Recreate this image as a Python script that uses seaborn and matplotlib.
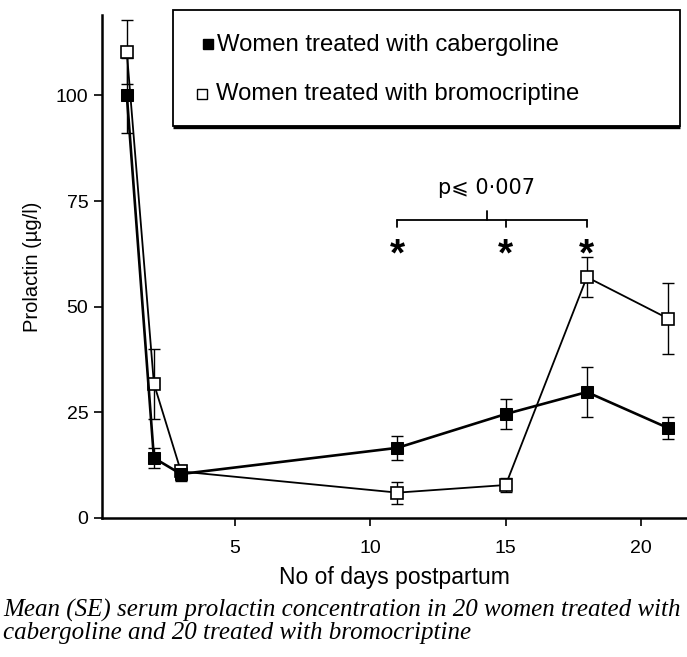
import pandas as pd
import matplotlib.pyplot as plt
from matplotlib.patches import Rectangle
import seaborn as sns

# ── Data ──────────────────────────────────────────────────────────────────────
days = [1, 2, 3, 11, 15, 18, 21]
cabergoline_mean = [100.0, 14.2, 10.4, 16.6, 24.6, 29.8, 21.3]
cabergoline_se = [8.8, 2.4, 1.6, 2.8, 3.6, 6.0, 2.5]
bromocriptine_mean = [110.2, 31.8, 11.0, 6.0, 7.8, 57.0, 47.2]
bromocriptine_se = [7.6, 8.3, 1.5, 2.6, 1.6, 4.8, 8.5]
sig_days = [11, 15, 18]

sns.set_theme(style="ticks")
plt.rcParams["font.family"] = ["Liberation Sans", "DejaVu Sans"]

df = pd.DataFrame({
    "day": days * 2,
    "prolactin": cabergoline_mean + bromocriptine_mean,
    "group": ["cab"] * len(days) + ["bro"] * len(days),
})

fig = plt.figure(figsize=(6.87, 6.57), dpi=100)
ax = fig.add_axes([0.148, 0.2116, 0.852, 0.7654])

# error bars first so markers sit on top
ax.errorbar(days, cabergoline_mean, yerr=cabergoline_se, fmt="none",
            ecolor="black", elinewidth=1.0, capsize=4, capthick=1.0, zorder=2)
ax.errorbar(days, bromocriptine_mean, yerr=bromocriptine_se, fmt="none",
            ecolor="black", elinewidth=1.0, capsize=4, capthick=1.0, zorder=2)

sns.lineplot(data=df[df.group == "bro"], x="day", y="prolactin", ax=ax,
             color="black", linewidth=1.3, marker="s", markersize=8.5,
             markerfacecolor="white", markeredgecolor="black",
             markeredgewidth=1.2, zorder=3)
sns.lineplot(data=df[df.group == "cab"], x="day", y="prolactin", ax=ax,
             color="black", linewidth=1.9, marker="s", markersize=8.5,
             markerfacecolor="black", markeredgecolor="black", zorder=4)

ax.set_xlim(0.07, 21.7)
ax.set_ylim(0, 119)
ax.set_xticks([5, 10, 15, 20])
ax.set_yticks([0, 25, 50, 75, 100])
ax.tick_params(axis="both", labelsize=14, length=6, width=1.2, color="black",
               labelcolor="black")
ax.tick_params(axis="x", pad=10)
ax.set_xlabel("No of days postpartum", fontsize=16.5, labelpad=6, color="black")
ax.set_ylabel("Prolactin (µg/l)", fontsize=14.5, labelpad=10, color="black")
for side in ["left", "bottom"]:
    ax.spines[side].set_linewidth(1.8)
    ax.spines[side].set_color("black")
sns.despine(ax=ax)

# significance bracket
y_br = 70.4
ax.plot([sig_days[0], sig_days[-1]], [y_br, y_br], color="black", lw=1.3)
for d in sig_days:
    ax.plot([d, d], [y_br, y_br - 1.6], color="black", lw=1.3)
    ax.text(d, 62.0, "*", ha="center", va="center", fontsize=28,
            fontweight="bold", color="black")
ax.plot([14.3, 14.3], [y_br, y_br + 2.2], color="black", lw=1.3)
ax.text(14.3, 78.0, "p\u2a7d 0·007", ha="center", va="center", fontsize=15,
        color="black", family=["DejaVu Sans"])

# legend box (boxed, with heavier bottom edge)
box = Rectangle((0.121, 0.779), 0.867, 0.231, transform=ax.transAxes,
                facecolor="white", edgecolor="black", lw=1.3, zorder=5,
                clip_on=False)
ax.add_patch(box)
ax.plot([0.121, 0.988], [0.777, 0.777], transform=ax.transAxes,
        color="black", lw=2.4, zorder=6, solid_capstyle="butt", clip_on=False)
ax.plot([0.182], [0.942], transform=ax.transAxes, marker="s", ms=7,
        color="black", zorder=6, clip_on=False)
ax.plot([0.172], [0.843], transform=ax.transAxes, marker="s", ms=7,
        mfc="white", mec="black", mew=1.0, zorder=6, clip_on=False)
ax.text(0.197, 0.940, "Women treated with cabergoline", transform=ax.transAxes,
        fontsize=17.2, va="center", ha="left", color="black", zorder=6)
ax.text(0.195, 0.843, "Women treated with bromocriptine", transform=ax.transAxes,
        fontsize=17.2, va="center", ha="left", color="black", zorder=6)

fig.text(0.005, 0.054, "Mean (SE) serum prolactin concentration in 20 women treated with\n"
         "cabergoline and 20 treated with bromocriptine",
         fontsize=18, family=["Liberation Serif"], style="italic",
         ha="left", va="center", linespacing=0.95, color="black")

fig.savefig("out.png", dpi=100)
